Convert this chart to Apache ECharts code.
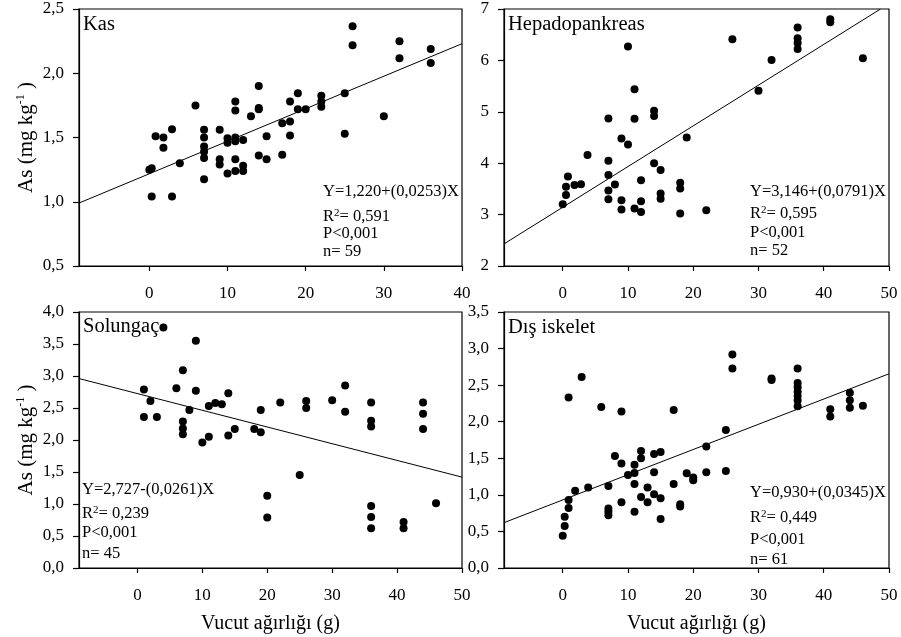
<!DOCTYPE html>
<html lang="tr">
<head>
<meta charset="utf-8">
<title>As - Vucut ağırlığı</title>
<script src="https://cdn.jsdelivr.net/npm/echarts@6.0.0/dist/echarts.min.js"></script>
<style>
    html, body { margin: 0; padding: 0; background: #fff; }
    #main { width: 901px; height: 637px; }
</style>
</head>
<body>
<div id="main"></div>
<script type="text/javascript">
    // Kas
    var kasX = [0.3, 0, 0.3, 0.8, 1.8, 1.8, 2.9, 2.9, 3.9, 5.9,
        7, 7, 7, 7, 7, 7, 9, 9, 9, 10, 10, 10,
        11, 11, 11, 11, 11, 11, 12, 12, 12, 13, 14, 14, 14, 14,
        15, 15, 17, 17, 18, 18, 18, 19, 19, 20, 22, 22, 22,
        25, 25, 26, 26, 30, 32, 32, 36, 36];
    var kasY = [1.26, 1.25, 1.04, 1.51, 1.50, 1.42, 1.565, 1.04, 1.30, 1.75,
        1.56, 1.50, 1.43, 1.39, 1.34, 1.175, 1.56, 1.33, 1.29, 1.495, 1.46, 1.22,
        1.78, 1.71, 1.50, 1.47, 1.33, 1.24, 1.48, 1.28, 1.24, 1.665, 1.90, 1.73, 1.72, 1.36,
        1.51, 1.33, 1.61, 1.365, 1.78, 1.625, 1.515, 1.845, 1.72, 1.72, 1.825, 1.78, 1.74,
        1.845, 1.53, 2.366, 2.218, 1.666, 2.249, 2.116, 2.189, 2.08];
    var kasLine = [[-9, 0.99], [40, 2.23]];
    var kasStats = ['Y=1,220+(0,0253)X', 'R{s|2}= 0,591', 'P<0,001', 'n= 59'];

    // Hepadopankreas
    var hepX = [0, 0.5, 0.5, 0.8, 1.8, 2.8, 3.8, 7, 7, 7, 7, 7, 8, 9, 9, 9,
        10, 10, 11, 11, 11, 12, 12, 12, 14, 14, 14, 15, 15, 15,
        18, 18, 18, 19, 22, 26, 30, 32, 36, 36, 36, 36, 41, 41, 46];
    var hepY = [3.2, 3.38, 3.54, 3.74, 3.575, 3.59, 4.16, 4.87, 4.05, 3.77, 3.47, 3.30, 3.585, 4.48, 3.28, 3.10,
        6.27, 4.365, 5.44, 4.865, 3.12, 3.67, 3.26, 3.05, 5.02, 4.92, 4.0, 3.87, 3.41, 3.31,
        3.62, 3.51, 3.02, 4.50, 3.085, 6.41, 5.41, 6.01, 6.64, 6.43, 6.34, 6.22, 6.80, 6.74, 6.04];
    var hepLine = [[-9, 2.43], [48.7, 7.0]];
    var hepStats = ['Y=3,146+(0,0791)X', 'R{s|2}= 0,595', 'P<0,001', 'n= 52'];

    // Solungaç
    var solX = [4, 1, 1, 2, 3, 6, 7, 7, 7, 7, 8, 9, 9, 10, 11, 11, 12, 13, 14, 14,
        15, 18, 19, 19, 20, 20, 22, 26, 26, 25, 30, 32, 32,
        36, 36, 36, 36, 36, 36, 41, 41, 44, 44, 44, 46];
    var solY = [3.756, 2.79, 2.36, 2.61, 2.36, 2.81, 3.09, 2.29, 2.18, 2.09, 2.47, 3.55, 2.77, 1.96, 2.53, 2.05, 2.58, 2.56, 2.73, 2.07,
        2.17, 2.17, 2.47, 2.12, 1.127, 0.79, 2.587, 2.61, 2.50, 1.455, 2.62, 2.85, 2.44,
        2.587, 2.30, 2.21, 0.97, 0.795, 0.62, 0.72, 0.62, 2.587, 2.41, 2.17, 1.01];
    var solLine = [[-9, 2.96], [50, 1.42]];
    var solStats = ['Y=2,727-(0,0261)X', 'R{s|2}= 0,239', 'P<0,001', 'n= 45'];

    // Dış iskelet
    var disX = [0, 0.3, 0.3, 0.9, 0.9, 0.9, 1.9, 2.9, 3.9, 5.9, 7, 7, 7, 7, 8, 9, 9, 9, 10,
        11, 11, 11, 11, 12, 12, 12, 13, 13, 14, 14, 14, 15, 15, 15,
        17, 17, 18, 18, 19, 20, 20, 22, 22, 25, 25, 26, 26, 32, 32,
        36, 36, 36, 36, 36, 36, 36, 41, 41, 44, 44, 44, 46];
    var disY = [0.44, 0.575, 0.70, 2.33, 0.93, 0.82, 1.055, 2.61, 1.10, 2.20, 1.12, 0.815, 0.77, 0.72, 1.53, 2.14, 1.43, 0.90, 1.27,
        1.41, 1.30, 1.148, 0.77, 1.60, 1.50, 0.97, 1.10, 0.90, 1.56, 1.31, 1.01, 1.585, 0.955, 0.67,
        2.16, 1.15, 0.87, 0.84, 1.295, 1.236, 1.20, 1.66, 1.31, 1.886, 1.327, 2.92, 2.727, 2.59, 2.57,
        2.727, 2.53, 2.47, 2.41, 2.35, 2.29, 2.21, 2.17, 2.07, 2.395, 2.295, 2.19, 2.218];
    var disLine = [[-9, 0.62], [50, 2.655]];
    var disStats = ['Y=0,930+(0,0345)X', 'R{s|2}= 0,449', 'P<0,001', 'n= 61'];

    var xTicks40 = [0, 10, 20, 30, 40];
    var xTicks50 = [0, 10, 20, 30, 40, 50];

    var FONT = 'Liberation Serif';

    function pairs(xs, ys) {
        return xs.map(function (x, i) { return [x, ys[i]]; });
    }
    function comma(v) {
        return v.toFixed(1).replace('.', ',');
    }

    var panels = [
        {title: 'Kas', xs: kasX, ys: kasY, line: kasLine, stats: kasStats, xMax: 40, ticks: xTicks40,
            yMin: 0.5, yMax: 2.5, yStep: 0.5, fmt: comma, yName: true, xName: false,
            grid: {left: 79, top: 9, width: 383, height: 257}, statX: 323, statY: [192, 217, 234, 252], titleY: 25},
        {title: 'Hepadopankreas', xs: hepX, ys: hepY, line: hepLine, stats: hepStats, xMax: 50, ticks: xTicks50,
            yMin: 2, yMax: 7, yStep: 1, fmt: function (v) { return String(v); }, yName: false, xName: false,
            grid: {left: 504, top: 9, width: 385, height: 257}, statX: 750, statY: [192, 214, 233, 251], titleY: 25},
        {title: 'Solungaç', xs: solX, ys: solY, line: solLine, stats: solStats, xMax: 50, ticks: xTicks50,
            yMin: 0, yMax: 4, yStep: 0.5, fmt: comma, yName: true, xName: true,
            grid: {left: 79, top: 312, width: 383, height: 256}, statX: 82, statY: [490, 514, 533, 554], titleY: 327},
        {title: 'Dış iskelet', xs: disX, ys: disY, line: disLine, stats: disStats, xMax: 50, ticks: xTicks50,
            yMin: 0, yMax: 3.5, yStep: 0.5, fmt: comma, yName: false, xName: true,
            grid: {left: 504, top: 312, width: 385, height: 256}, statX: 750, statY: [493, 518, 540, 560], titleY: 328}
    ];

    var grids = [], xAxes = [], yAxes = [], series = [], texts = [];
    var axisLineStyle = {color: '#000', width: 1.2};

    panels.forEach(function (p, i) {
        grids.push(Object.assign({show: true, borderColor: '#000', borderWidth: 1.2, backgroundColor: 'transparent'}, p.grid));
        xAxes.push({
            type: 'value', gridIndex: i, min: -9, max: p.xMax,
            axisLine: {show: true, onZero: false, lineStyle: axisLineStyle},
            axisTick: {show: true, length: 5, lineStyle: axisLineStyle, customValues: p.ticks},
            axisLabel: {fontFamily: FONT, fontSize: 17, color: '#000', margin: 19, customValues: p.ticks},
            splitLine: {show: false},
            name: p.xName ? 'Vucut ağırlığı (g)' : '',
            nameLocation: 'middle', nameGap: 46,
            nameTextStyle: {fontFamily: FONT, fontSize: 20, color: '#000'}
        });
        yAxes.push({
            type: 'value', gridIndex: i, min: p.yMin, max: p.yMax, interval: p.yStep,
            axisLine: {show: true, onZero: false, lineStyle: axisLineStyle},
            axisTick: {show: true, length: 6, lineStyle: axisLineStyle},
            axisLabel: {fontFamily: FONT, fontSize: 17, color: '#000', margin: 15, formatter: p.fmt},
            splitLine: {show: false},
            name: p.yName ? '{n|As (mg kg}{s|-1}{n| )}' : '',
            nameLocation: 'middle', nameGap: 42,
            nameTextStyle: {
                fontFamily: FONT, fontSize: 21, color: '#000',
                rich: {
                    n: {fontFamily: FONT, fontSize: 21, color: '#000'},
                    s: {fontFamily: FONT, fontSize: 12, color: '#000', verticalAlign: 'top', padding: [0, 0, 10, 0]}
                }
            }
        });
        series.push({
            type: 'scatter', xAxisIndex: i, yAxisIndex: i,
            data: pairs(p.xs, p.ys), symbol: 'circle', symbolSize: 8,
            itemStyle: {color: '#000', opacity: 1}, silent: true
        });
        series.push({
            type: 'line', xAxisIndex: i, yAxisIndex: i,
            data: p.line, showSymbol: false, clip: true, silent: true,
            lineStyle: {color: '#000', width: 1}
        });
        texts.push({
            type: 'text', x: p.grid.left + 4, y: p.titleY,
            style: {text: p.title, font: '20.5px "Liberation Serif"', fill: '#000', verticalAlign: 'middle'}
        });
        p.stats.forEach(function (s, k) {
            texts.push({
                type: 'text', x: p.statX, y: p.statY[k],
                style: {
                    text: s, font: '16.5px "Liberation Serif"', fill: '#000', verticalAlign: 'middle',
                    rich: {s: {fontFamily: FONT, fontSize: 11, fill: '#000', verticalAlign: 'top', padding: [0, 0, 8, 0]}}
                }
            });
        });
    });

    var chart = echarts.init(document.getElementById('main'));
    chart.setOption({
        animation: false,
        backgroundColor: '#fff',
        grid: grids,
        xAxis: xAxes,
        yAxis: yAxes,
        series: series,
        graphic: texts
    });
</script>
</body>
</html>
